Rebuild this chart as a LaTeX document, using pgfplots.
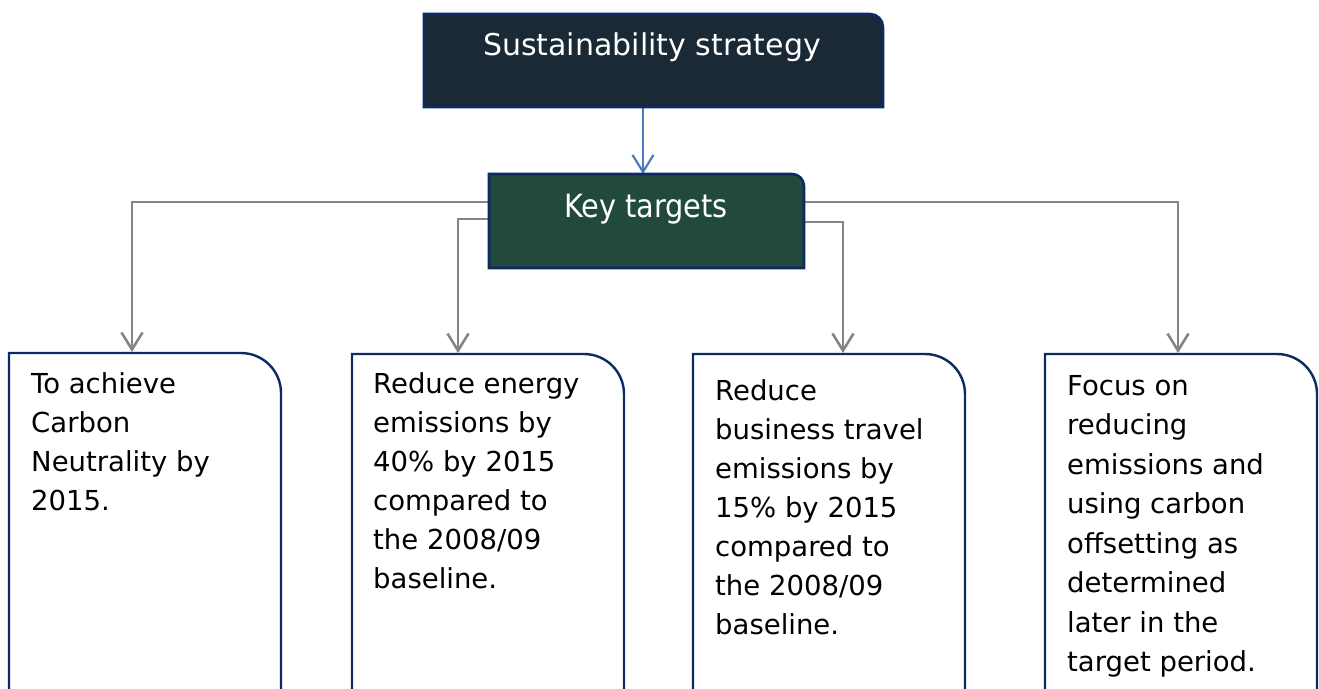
\documentclass[border=0pt]{standalone}
\usepackage{pgfplots}
\pgfplotsset{compat=1.18}
\usetikzlibrary{arrows.meta}
\usepackage{fontspec}
\setmainfont{DejaVu Sans}
\newfontfamily\condfont{DejaVu Sans Condensed}
\definecolor{topfill}{HTML}{1B2835}
\definecolor{keyfill}{HTML}{214A3C}
\definecolor{navy}{HTML}{0E2A62}
\definecolor{arrblue}{HTML}{4A7EBB}
\definecolor{lgray}{HTML}{858585}
\newcommand\boxfont{\fontsize{27.5}{39}\selectfont}
\begin{document}
\begin{tikzpicture}
\begin{axis}[
  width=1319pt, height=688pt, scale only axis,
  xmin=0, xmax=1319, ymin=0, ymax=688, y dir=reverse,
  hide axis, clip=true,
  every axis plot/.append style={mark=none},
]
% bottom boxes
\draw[navy, line width=2.4pt, fill=white] (axis cs:9,700) -- (axis cs:9,353) [rounded corners=40pt] -- (axis cs:281,353) [sharp corners] -- (axis cs:281,700);
\draw[navy, line width=2.4pt, fill=white] (axis cs:352,700) -- (axis cs:352,354) [rounded corners=40pt] -- (axis cs:624,354) [sharp corners] -- (axis cs:624,700);
\draw[navy, line width=2.4pt, fill=white] (axis cs:693,700) -- (axis cs:693,354) [rounded corners=40pt] -- (axis cs:965,354) [sharp corners] -- (axis cs:965,700);
\draw[navy, line width=2.4pt, fill=white] (axis cs:1045,700) -- (axis cs:1045,354) [rounded corners=40pt] -- (axis cs:1317,354) [sharp corners] -- (axis cs:1317,700);
% connectors
\addplot[lgray, line width=2.6pt, -{Straight Barb[length=17pt,width=21pt]}] coordinates {(490,202) (132,202) (132,352)};
\addplot[lgray, line width=2.6pt, -{Straight Barb[length=17pt,width=21pt]}] coordinates {(490,219) (458,219) (458,353)};
\addplot[lgray, line width=2.6pt, -{Straight Barb[length=17pt,width=21pt]}] coordinates {(803,222) (843,222) (843,353)};
\addplot[lgray, line width=2.6pt, -{Straight Barb[length=17pt,width=21pt]}] coordinates {(803,202) (1178,202) (1178,353)};
\addplot[arrblue, line width=2.2pt, -{Straight Barb[length=17pt,width=21pt]}] coordinates {(643,107) (643,174)};
% top boxes
\draw[navy, line width=2.6pt, fill=topfill] (axis cs:424,107) -- (axis cs:424,14) [rounded corners=13pt] -- (axis cs:883,14) [sharp corners] -- (axis cs:883,107) -- cycle;
\draw[navy, line width=2.6pt, fill=keyfill] (axis cs:489,268) -- (axis cs:489,174) [rounded corners=12pt] -- (axis cs:804,174) [sharp corners] -- (axis cs:804,268) -- cycle;
\node[white, anchor=base, inner sep=0, font=\fontsize{30}{36}\selectfont] at (axis cs:652,55) {Sustainability strategy};
\node[white, anchor=base, inner sep=0, font=\condfont\fontsize{32}{36}\selectfont] at (axis cs:646,217) {Key targets};
% box 1
\node[anchor=base west, inner sep=0, font=\boxfont] at (axis cs:31,393) {To achieve};
\node[anchor=base west, inner sep=0, font=\boxfont] at (axis cs:31,432) {Carbon};
\node[anchor=base west, inner sep=0, font=\boxfont] at (axis cs:31,471) {Neutrality by};
\node[anchor=base west, inner sep=0, font=\boxfont] at (axis cs:31,510) {2015.};
% box 2
\node[anchor=base west, inner sep=0, font=\boxfont] at (axis cs:373,393) {Reduce energy};
\node[anchor=base west, inner sep=0, font=\boxfont] at (axis cs:373,432) {emissions by};
\node[anchor=base west, inner sep=0, font=\boxfont] at (axis cs:373,471) {40\% by 2015};
\node[anchor=base west, inner sep=0, font=\boxfont] at (axis cs:373,510) {compared to};
\node[anchor=base west, inner sep=0, font=\boxfont] at (axis cs:373,549) {the 2008/09};
\node[anchor=base west, inner sep=0, font=\boxfont] at (axis cs:373,588) {baseline.};
% box 3
\node[anchor=base west, inner sep=0, font=\boxfont] at (axis cs:715,400) {Reduce};
\node[anchor=base west, inner sep=0, font=\boxfont] at (axis cs:715,439) {business travel};
\node[anchor=base west, inner sep=0, font=\boxfont] at (axis cs:715,478) {emissions by};
\node[anchor=base west, inner sep=0, font=\boxfont] at (axis cs:715,517) {15\% by 2015};
\node[anchor=base west, inner sep=0, font=\boxfont] at (axis cs:715,556) {compared to};
\node[anchor=base west, inner sep=0, font=\boxfont] at (axis cs:715,595) {the 2008/09};
\node[anchor=base west, inner sep=0, font=\boxfont] at (axis cs:715,634) {baseline.};
% box 4
\node[anchor=base west, inner sep=0, font=\boxfont] at (axis cs:1067,395) {Focus on};
\node[anchor=base west, inner sep=0, font=\boxfont] at (axis cs:1067,434.5) {reducing};
\node[anchor=base west, inner sep=0, font=\boxfont] at (axis cs:1067,474) {emissions and};
\node[anchor=base west, inner sep=0, font=\boxfont] at (axis cs:1067,513.5) {using carbon};
\node[anchor=base west, inner sep=0, font=\boxfont] at (axis cs:1067,553) {offsetting as};
\node[anchor=base west, inner sep=0, font=\boxfont] at (axis cs:1067,592.5) {determined};
\node[anchor=base west, inner sep=0, font=\boxfont] at (axis cs:1067,632) {later in the};
\node[anchor=base west, inner sep=0, font=\boxfont] at (axis cs:1067,671.5) {target period.};
\end{axis}
\pgfresetboundingbox
\useasboundingbox (current axis.south west) rectangle (current axis.north east);
\end{tikzpicture}
\end{document}
